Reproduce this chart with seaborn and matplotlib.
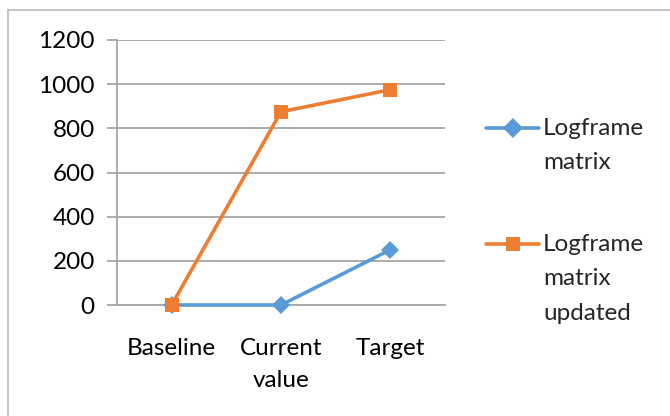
import matplotlib
matplotlib.use("Agg")
import matplotlib.pyplot as plt
from matplotlib.patches import Rectangle
from matplotlib.offsetbox import HPacker
import pandas as pd
import seaborn as sns

categories = ["Baseline", "Current\nvalue", "Target"]
logframe = [0, 0, 250]
logframe_updated = [0, 875, 975]
series_names = ["Logframe\nmatrix", "Logframe\nmatrix\nupdated"]
y_ticks = [0, 200, 400, 600, 800, 1000, 1200]

df = pd.DataFrame({
    "category": categories * 2,
    "value": logframe + logframe_updated,
    "series": [series_names[0]] * 3 + [series_names[1]] * 3,
})

sns.set_theme(style="white")
plt.rcParams["font.family"] = ["Lato", "DejaVu Sans"]

FS = 17.5
LS = 1.6

fig = plt.figure(figsize=(6.7, 4.16), dpi=100)
ax = fig.add_axes([117 / 670, 1 - 305 / 416, (445 - 117) / 670, (305 - 40) / 416])

palette = {series_names[0]: "#5B9BD5", series_names[1]: "#ED7D31"}
markers = {series_names[0]: "D", series_names[1]: "s"}
sns.lineplot(data=df, x="category", y="value", hue="series", style="series",
             palette=palette, markers=markers, dashes=False, linewidth=2.6,
             markersize=10, markeredgewidth=0, ax=ax, sort=False)
# diamonds a touch smaller than the squares; markers on the zero line drawn whole
ax.lines[0].set_markersize(9)
for line in ax.lines:
    line.set_clip_on(False)
    line.set_zorder(3)

ax.set_xlim(-0.5, 2.5)
ax.set_ylim(0, 1200)
ax.set_yticks(y_ticks)
ax.set_yticklabels([str(v) for v in y_ticks])
ax.set_xticks([0, 1, 2])
ax.set_xticklabels(categories, linespacing=LS, va="top")
ax.set_xlabel("")
ax.set_ylabel("")

grid_color = "#A6A6A6"
ax.yaxis.grid(True, color=grid_color, linewidth=1.3)
ax.set_axisbelow(True)
for side in ["top", "right"]:
    ax.spines[side].set_visible(False)
for side in ["left", "bottom"]:
    ax.spines[side].set_color(grid_color)
    ax.spines[side].set_linewidth(1.3)
    ax.spines[side].set_zorder(1)

# tick marks between categories on x, outward marks on y
ax.set_xticks([-0.5, 0.5, 1.5, 2.5], minor=True)
ax.tick_params(axis="x", which="major", length=0, labelsize=FS, pad=24, colors="black")
ax.tick_params(axis="x", which="minor", length=8, width=1.3, color=grid_color, direction="out")
ax.tick_params(axis="y", which="major", length=7, width=1.3, color=grid_color,
               labelsize=FS, pad=9, labelcolor="black", left=True)

ax.legend_.remove()
handles, labels = ax.get_legend_handles_labels()
leg = fig.legend(handles, labels, loc="upper left", bbox_to_anchor=(486 / 670, 1 - 118 / 416),
                 frameon=False, fontsize=FS, labelspacing=2.5, handlelength=2.2,
                 handleheight=1.2, handletextpad=0.15, borderaxespad=0, borderpad=0)
for txt in leg.get_texts():
    txt.set_linespacing(1.78)
# keep each legend key level with the first line of its label
for packer in leg.findobj(HPacker):
    packer.align = "top"

# outer chart border
fig.patches.append(Rectangle((8 / 670, -0.05), 1.2, 1 - 10 / 416 + 0.05,
                             transform=fig.transFigure, fill=False,
                             edgecolor="#BFBFBF", linewidth=1.3, zorder=-1))

fig.savefig("out.png", dpi=100)
